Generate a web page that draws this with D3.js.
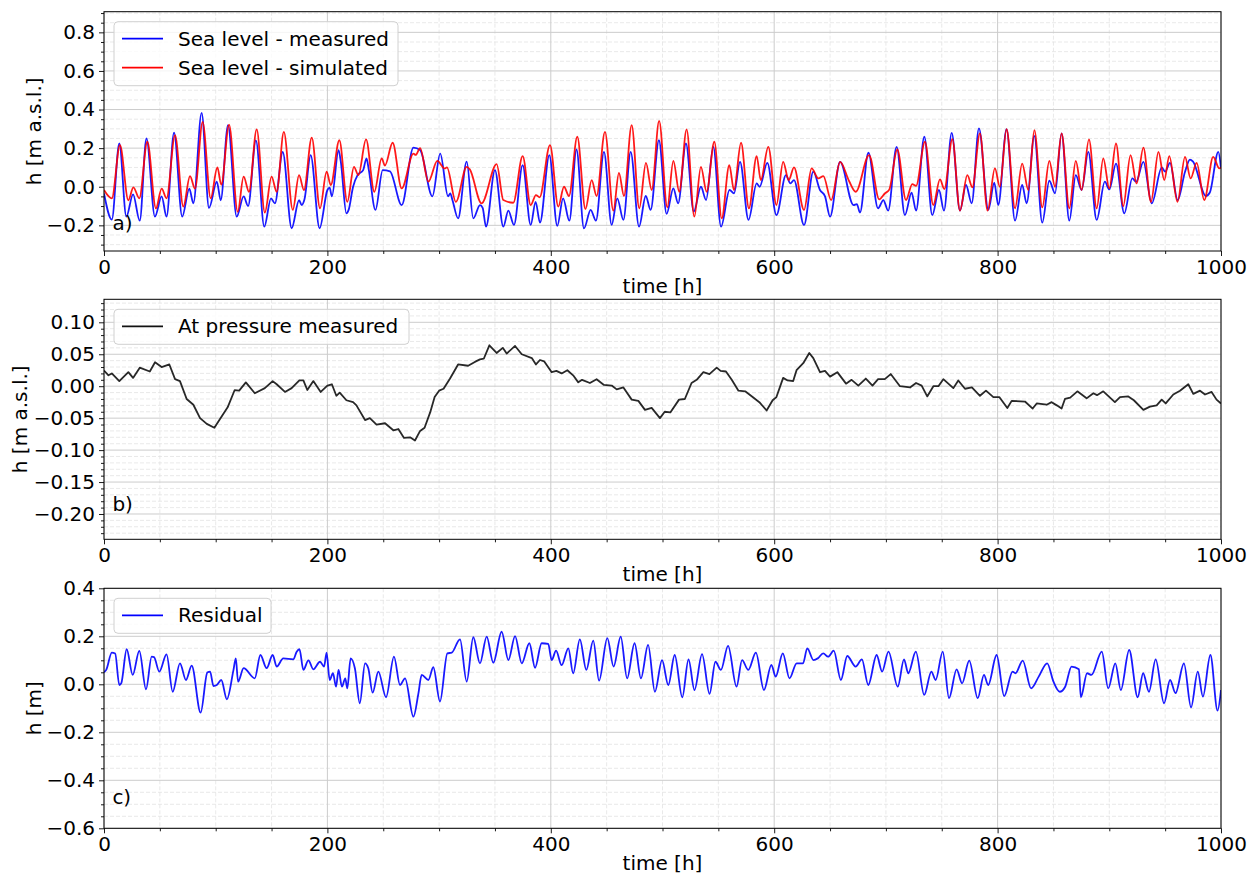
<!DOCTYPE html>
<html>
<head>
<meta charset="utf-8">
<script src="https://cdn.jsdelivr.net/npm/d3@7"></script>
<style>
  body { margin: 0; background: #fff; }
  svg { display: block; }
  text { font-family: "DejaVu Sans", sans-serif; fill: #000; }
</style>
</head>
<body>
<svg id="fig" width="1259" height="876"></svg>
<script>
// ---- tick labels ----
const timeTicks = [0, 200, 400, 600, 800, 1000];
const levelTicks = [-0.2, 0, 0.2, 0.4, 0.6, 0.8];
const pressureTicks = [-0.2, -0.15, -0.1, -0.05, 0, 0.05, 0.1];
const residualTicks = [-0.6, -0.4, -0.2, 0, 0.2, 0.4];

// ---- series: [time (h), level (m)] ----
const seaMeasured = [
  [0,-0.035],[7,-0.17],[13.7,0.224],[20,-0.155],[26,-0.04],[32,-0.176],[38,0.25],[45.6,-0.155],
  [51.6,-0.05],[56,-0.155],[62.7,0.28],[70,-0.155],[76.4,-0.01],[80,-0.086],[87.4,0.383],[94,-0.11],
  [101,0.026],[104.5,-0.07],[111,0.319],[118.8,-0.155],[125,-0.05],[129,-0.1],[136,0.24],[143.5,-0.207],
  [149.5,-0.06],[153,-0.086],[160,0.18],[168,-0.215],[174.6,-0.07],[177,-0.095],[179.5,-0.065],[185,0.164],
  [193,-0.215],[200,-0.017],[202,-0.005],[204,-0.05],[210,0.19],[212,0.13],[217,-0.138],[219,-0.12],
  [223,0],[227,0.06],[232,0.086],[235,0.147],[237,0.09],[243,-0.12],[249.5,0.086],[256,0.08],
  [266.5,-0.095],[277,0.203],[283,0.19],[294,-0.05],[301,0.172],[308,-0.05],[310,-0.035],[312,-0.07],
  [317,-0.164],[324.7,0.13],[330.6,-0.164],[336.6,-0.095],[339,-0.11],[342,-0.207],[350,0.086],[357.5,-0.207],
  [362,-0.124],[367,-0.198],[374.8,0.112],[382,-0.198],[386.4,-0.078],[390.3,-0.186],[398.7,0.164],[405.8,-0.203],
  [411,-0.06],[416.6,-0.176],[423,0.193],[429.7,-0.216],[435.7,-0.12],[440.4,-0.176],[447.6,0.181],[454.5,-0.198],
  [459.5,-0.06],[465,-0.172],[471.5,0.181],[479,-0.207],[485,-0.048],[489.4,-0.12],[496.8,0.241],[503.7,-0.141],
  [509.7,-0.009],[514,-0.086],[521,0.224],[528,-0.129],[534.4,0],[539,-0.069],[545.5,0.207],[552.4,-0.207],
  [560,-0.017],[564,-0.034],[569.4,0.129],[577,-0.172],[584.3,0.017],[587,0],[593.8,0.124],[602,-0.147],
  [610.5,0.06],[614.5,0.017],[617.7,0.034],[626.7,-0.198],[635,0.078],[641,-0.017],[645.5,-0.05],[650,-0.155],
  [659,0.129],[671,-0.095],[674,-0.09],[676.8,-0.134],[684.3,0.176],[693,-0.112],[697.7,-0.069],[702,-0.124],
  [709.6,0.207],[717,-0.147],[723,-0.031],[727,-0.124],[734.4,0.259],[741.5,-0.147],[747.5,-0.017],[752,-0.124],
  [758.9,0.279],[766.3,-0.124],[771.7,0.009],[776.8,-0.086],[783.3,0.302],[791.7,-0.12],[797,0.021],[800.6,-0.095],
  [808,0.298],[815.6,-0.176],[822,0.009],[826,-0.086],[832.9,0.264],[840,-0.186],[846.3,0.031],[851.4,-0.034],
  [857.3,0.276],[864.2,-0.176],[870,0.06],[875.2,-0.017],[881.2,0.181],[888.7,-0.172],[896,0.026],[900,-0.014],
  [906,0.12],[913.4,-0.138],[920.6,0.043],[924,0.026],[930.5,0.129],[938,-0.086],[947,0.1],[950,0.078],
  [954.3,0.124],[961.2,-0.069],[967.8,0.078],[972.2,0.141],[975,0.13],[986.5,-0.048],[990,-0.03],[997.6,0.181],
  [1000,0.095]
];

const seaSimulated = [
  [0,-0.017],[7,-0.06],[14.3,0.215],[21.8,-0.07],[26.3,-0.003],[31.6,-0.06],[38.8,0.233],[46.5,-0.112],
  [51.6,-0.01],[56,-0.06],[63.6,0.267],[71,-0.103],[77,0.055],[81.5,-0.01],[88.3,0.336],[95.5,-0.06],
  [101.5,0.1],[105,0.01],[112,0.322],[119.7,-0.13],[125,0.052],[129.8,-0.026],[136.7,0.297],[144,-0.134],
  [150,0.052],[154.6,-0.026],[161,0.284],[169,-0.12],[174.6,0.06],[179,-0.017],[186,0.255],[193.4,-0.112],
  [199.3,0.078],[203,0.009],[210.7,0.241],[217.8,-0.078],[223.8,0.103],[227.7,0.06],[234.6,0.245],[242,-0.026],
  [248.6,0.147],[251.5,0.11],[258.4,0.228],[266.5,-0.009],[277,0.172],[279,0.165],[283,0.2],[290.4,0.026],
  [298.4,0.134],[305,0.095],[307,0.1],[315,-0.078],[324.7,0.103],[327.5,0.09],[338,-0.086],[351.5,0.117],
  [357.5,-0.069],[366.4,-0.083],[374.8,0.159],[382,-0.095],[386.7,-0.043],[390,-0.055],[399.3,0.216],[406.7,-0.103],
  [411.8,0],[416.3,-0.048],[423.7,0.259],[431,-0.116],[436.6,0.034],[441,-0.048],[448.5,0.284],[456,-0.124],
  [461,0.072],[465.5,-0.048],[472.4,0.319],[479.2,-0.112],[485.2,0.124],[490.3,-0.017],[497,0.341],[504.3,-0.107],
  [509.7,0.134],[515,-0.026],[521.6,0.297],[528.5,-0.155],[534.4,0.103],[539.5,-0.026],[546.4,0.233],[553,-0.164],
  [559.8,0.112],[564,-0.017],[570.3,0.228],[577.4,-0.112],[584.3,0.159],[588,0.034],[594.7,0.207],[602,-0.095],
  [608,0.129],[613,0.034],[617.7,0.1],[626.7,-0.12],[633.5,0.095],[639.5,0.043],[644,0.055],[651,-0.069],
  [659,0.129],[667,0.03],[673,-0.026],[685,0.164],[694,-0.065],[699,-0.035],[703,-0.015],[710.2,0.193],
  [718,-0.069],[723.6,0.014],[727,0.005],[735,0.233],[742.4,-0.095],[748.4,0.038],[752.3,-0.012],[759.5,0.247],
  [766.3,-0.124],[772.9,0.06],[777.4,-0.003],[784.2,0.276],[791,-0.124],[797.6,0.095],[802,0],[808,0.298],
  [815.6,-0.112],[822,0.12],[827.5,-0.017],[832.9,0.293],[840,-0.107],[846.3,0.134],[851.4,0],[857.3,0.276],
  [864.2,-0.112],[870,0.134],[875.2,-0.017],[881.8,0.245],[888.7,-0.112],[894.6,0.147],[900,-0.009],[906,0.224],
  [912.5,-0.1],[919,0.164],[924.5,0.017],[930.5,0.203],[937.3,-0.078],[944,0.181],[949.2,0.034],[953.7,0.159],
  [961,-0.078],[967.8,0.155],[972.8,0.043],[978.2,0.124],[985,-0.069],[993,0.155],[998.5,0.095],[1000,0.1]
];

const atPressure = [
  [0,0.0245],[4,0.017],[7,0.02],[13.7,0.008],[21.8,0.022],[26,0.013],[32,0.029],[41,0.023],
  [45.7,0.0375],[51.6,0.03],[58.5,0.034],[63.6,0.011],[68,0.008],[74,-0.02],[80,-0.029],[86,-0.05],
  [92,-0.059],[98.8,-0.065],[104,-0.051],[110.7,-0.033],[117,-0.006],[121,-0.007],[127,0.006],[135,-0.011],
  [144,-0.003],[151,0.008],[154.6,0.003],[162,-0.009],[168,-0.003],[174.9,0.009],[178.5,0.009],[182,-0.006],
  [187.4,0.008],[194,-0.009],[200,0.001],[204,0.003],[208,-0.015],[211,-0.01],[217,-0.022],[223,-0.025],
  [226,-0.03],[233.7,-0.053],[238,-0.05],[244,-0.06],[251.6,-0.058],[259,-0.069],[263.5,-0.067],[268.6,-0.081],
  [274,-0.08],[278.4,-0.085],[283,-0.07],[287,-0.065],[292,-0.041],[296,-0.017],[300,-0.007],[304,-0.004],
  [309.8,0.012],[317,0.034],[326,0.032],[332,0.038],[336.6,0.042],[340,0.043],[345,0.064],[351.5,0.052],
  [357,0.06],[360.5,0.051],[368,0.063],[374,0.05],[383,0.044],[386.7,0.034],[390.3,0.041],[394,0.039],
  [400.8,0.022],[405,0.024],[409.7,0.02],[414.8,0.025],[420,0.017],[424.6,0.006],[428,0.01],[435,0.005],
  [441,0.011],[447.6,0.002],[454.5,0.001],[459,-0.005],[465,-0.002],[472.4,-0.021],[478.4,-0.023],[484.3,-0.037],
  [490.3,-0.034],[497.7,-0.05],[502,-0.04],[507,-0.041],[514.8,-0.021],[520,-0.02],[526,0.005],[530.6,0.01],
  [536.6,0.022],[542,0.019],[548.5,0.029],[552,0.024],[556.8,0.023],[562,0.01],[568,-0.007],[574,-0.008],
  [580.7,-0.017],[586.7,-0.025],[593.2,-0.038],[598.6,-0.022],[602,-0.017],[608,0.013],[612,0.009],[617,0.008],
  [620,0.025],[626,0.036],[631.4,0.052],[635,0.044],[641,0.022],[645.5,0.024],[650,0.015],[656.5,0.022],
  [664.3,0.004],[669.3,0.01],[675.3,0.001],[682,0.012],[688,0.001],[693,0.011],[699,0.011],[704.3,0.019],
  [712.6,0],[721.6,-0.002],[727,0.005],[732,0.001],[737,-0.016],[742.5,0],[747,0],[751.4,0.011],
  [760.4,-0.003],[764.8,0.009],[770.8,-0.004],[777,-0.002],[784.2,-0.015],[789.6,-0.007],[796.2,-0.017],[801.5,-0.017],
  [808.7,-0.034],[812.6,-0.023],[824.5,-0.024],[831.4,-0.035],[835,-0.027],[843.9,-0.029],[848.4,-0.025],[853,-0.03],
  [857.3,-0.035],[860.3,-0.02],[865,-0.018],[871.4,-0.008],[879.7,-0.019],[885.7,-0.011],[889,-0.014],[894.6,-0.008],
  [905,-0.025],[909.6,-0.017],[917,-0.016],[922,-0.022],[930.5,-0.037],[936.4,-0.032],[942.4,-0.03],[946.9,-0.021],
  [950.5,-0.027],[957.3,-0.013],[963.3,-0.007],[970.7,0.003],[975.2,-0.012],[981.2,-0.007],[985.7,-0.013],[991.6,-0.009],
  [996,-0.021],[1000,-0.027]
];

const residual = [
  [0,0.05],[2,0.06],[7,0.132],[10,0.128],[13.7,-0.003],[15.5,0.005],[20.3,0.146],[25.7,0.039],
  [31.6,0.139],[37.6,-0.021],[42.7,0.115],[44.8,0.113],[49.5,0.053],[56,0.125],[61.5,-0.031],[68,0.0875],
  [73.4,0.018],[78.5,0.078],[86.5,-0.118],[92.5,0.049],[95,0.053],[98,-0.007],[101,-0.003],[105,0.018],
  [110,-0.0625],[115.8,0.057],[118,0.108],[120,0.011],[125,0.067],[135,0.025],[140,0.122],[145.6,0.067],
  [151,0.122],[154.6,0.074],[160.5,0.108],[169.5,0.104],[172.5,0.136],[175,0.146],[178.5,0.06],[183,0.1],
  [187.4,0.0625],[193.4,0.094],[197,0.074],[199.3,0.132],[202,0.018],[205,0.046],[207.7,-0.01],[210,0.06],
  [213,-0.01],[216,0.025],[217.8,-0.017],[220.8,0.108],[224.6,0.067],[229,-0.079],[233.7,0.0875],[236.6,0.067],
  [240.5,-0.035],[245.6,0.053],[252.5,-0.054],[259.6,0.115],[265,-0.003],[269.5,0.025],[277,-0.135],[281.4,-0.04],
  [284.4,0.039],[290.4,0.018],[294.8,0.071],[300.8,-0.072],[307.4,0.129],[311.3,0.132],[318.7,0.1875],[324.7,0.011],
  [330.6,0.196],[336.6,0.0875],[342.6,0.199],[348.5,0.09],[356,0.219],[362,0.101],[368,0.201],[374,0.0875],
  [380.8,0.171],[385.9,0.069],[391.8,0.171],[397.7,0.168],[400.8,0.101],[404.7,0.14],[409.7,0.08],[415.7,0.15],
  [420,0.046],[426,0.1875],[431.8,0.06],[438,0.182],[443.2,0.015],[450.6,0.192],[456.2,0.074],[462.6,0.199],
  [468.3,0.025],[475,0.171],[480.7,0.025],[487.1,0.164],[493.2,-0.031],[499.6,0.101],[505.2,-0.003],[510.9,0.122],
  [517.7,-0.054],[523.3,0.104],[528.6,-0.024],[535.4,0.126],[542.1,-0.04],[547.4,0.094],[552.3,0.06],[558.7,0.16],
  [566.3,-0.01],[571.2,0.101],[576.8,0.06],[583.6,0.132],[590.8,-0.024],[597.5,0.081],[601.3,0.032],[607.7,0.129],
  [613.7,0.025],[620.1,0.0875],[625.8,0.0875],[629.6,0.15],[635.2,0.101],[639,0.108],[643.9,0.129],[648.3,0.115],
  [653.3,0.14],[659.7,0.018],[665.4,0.118],[672.9,0.074],[678.5,0.104],[684.2,-0.003],[691.7,0.122],[696.6,0.053],
  [702.3,0.136],[710.6,-0.01],[716.2,0.104],[720,0.046],[726.8,0.136],[734.3,-0.044],[740.7,0.053],[744.5,0.018],
  [750.9,0.136],[756.5,-0.058],[763.3,0.0625],[768.2,0.004],[774.6,0.099],[782.2,-0.058],[787.8,0.039],[791.6,-0.003],
  [799.1,0.122],[805.9,-0.049],[813.4,0.053],[816,0.046],[822.5,0.099],[830,-0.017],[836.8,0.032],[844.4,0.0875],
  [850,0.011],[855.6,-0.031],[860.5,-0.01],[866.2,0.074],[872.8,0.0625],[874.5,-0.054],[880.1,0.046],[884,0.039],
  [893.3,0.136],[899,-0.017],[905.4,0.0875],[910.3,-0.024],[917.8,0.143],[925.4,-0.054],[930.3,0.046],[935.5,-0.031],
  [941.5,0.104],[949,-0.079],[954.4,0.018],[959.3,-0.037],[966.8,0.0875],[973.2,-0.096],[979.2,0.053],[983.8,-0.051],
  [990.5,0.122],[996.9,-0.11],[1000,-0.024]
];

// ---- figure layout ----
const svg = d3.select("#fig");
const left = 104, right = 1221;
const FONT = 20;
const x = d3.scaleLinear().domain([0, 1000]).range([left, right]);
const minus = s => s.replace("-", "\u2212");

const panels = [
  { top: 11.7, bottom: 251, domain: [-0.333, 0.907], ticks: levelTicks, minor: 0.05, fmt: ".1f",
    ylabel: "h [m a.s.l.]", ylabelX: 41, tag: "a)", tagY: -0.223, curve: d3.curveMonotoneX, legendW: 284,
    series: [
      { data: seaMeasured, color: "#0000ff", name: "Sea level - measured" },
      { data: seaSimulated, color: "#ff0000", name: "Sea level - simulated" }
    ] },
  { top: 299.3, bottom: 539.3, domain: [-0.2396, 0.136], ticks: pressureTicks, minor: 0.01, fmt: ".2f",
    ylabel: "h [m a.s.l.]", ylabelX: 27, tag: "b)", tagY: -0.195, curve: d3.curveLinear, legendW: 295,
    series: [ { data: atPressure, color: "#111111", name: "At pressure measured" } ] },
  { top: 588.3, bottom: 828.3, domain: [-0.6, 0.4], ticks: residualTicks, minor: 0.05, fmt: ".1f",
    ylabel: "h [m]", ylabelX: 41, tag: "c)", tagY: -0.5, curve: d3.curveMonotoneX, legendW: 157,
    series: [ { data: residual, color: "#0000ff", name: "Residual" } ] }
];

panels.forEach((p, i) => {
  const y = d3.scaleLinear().domain(p.domain).range([p.bottom, p.top]);
  const g = svg.append("g");
  const eps = 1e-9;

  // minor grid
  const yMinor = d3.range(Math.ceil(p.domain[0] / p.minor) * p.minor, p.domain[1] + eps, p.minor)
    .map(v => +v.toFixed(4))
    .filter(v => !p.ticks.some(t => Math.abs(t - v) < 1e-6));
  const xMinor = d3.range(0, 1001, 50).filter(v => v % 200 !== 0);

  g.append("g").selectAll("line").data(yMinor).join("line")
    .attr("x1", left).attr("x2", right).attr("y1", d => y(d)).attr("y2", d => y(d))
    .attr("stroke", "#e3e3e3").attr("stroke-width", 0.8).attr("stroke-dasharray", "4,2");
  g.append("g").selectAll("line").data(xMinor).join("line")
    .attr("y1", p.top).attr("y2", p.bottom).attr("x1", d => x(d)).attr("x2", d => x(d))
    .attr("stroke", "#e3e3e3").attr("stroke-width", 0.8).attr("stroke-dasharray", "4,2");

  // major grid
  g.append("g").selectAll("line").data(p.ticks).join("line")
    .attr("x1", left).attr("x2", right).attr("y1", d => y(d)).attr("y2", d => y(d))
    .attr("stroke", "#cccccc").attr("stroke-width", 1);
  g.append("g").selectAll("line").data(timeTicks).join("line")
    .attr("y1", p.top).attr("y2", p.bottom).attr("x1", d => x(d)).attr("x2", d => x(d))
    .attr("stroke", "#cccccc").attr("stroke-width", 1);

  // lines
  const clipId = "clip" + i;
  svg.append("clipPath").attr("id", clipId).append("rect")
    .attr("x", left).attr("y", p.top).attr("width", right - left).attr("height", p.bottom - p.top);
  const line = d3.line().x(d => x(d[0])).y(d => y(d[1])).curve(p.curve);
  const lg = g.append("g").attr("clip-path", `url(#${clipId})`);
  p.series.forEach(s => {
    lg.append("path").datum(s.data).attr("d", line)
      .attr("fill", "none").attr("stroke", s.color).attr("stroke-width", 1.8)
      .attr("stroke-linejoin", "round").attr("stroke-opacity", 0.9);
  });

  // axes
  const yAxis = d3.axisLeft(y).tickValues(p.ticks).tickSize(5).tickPadding(4)
    .tickFormat(v => minus(d3.format(p.fmt)(v)));
  const yMinorAxis = d3.axisLeft(y).tickValues(yMinor).tickSize(3).tickFormat("");
  const xAxis = d3.axisBottom(x).tickValues(timeTicks).tickSize(5).tickPadding(4).tickFormat(d3.format("d"));
  const xMinorAxis = d3.axisBottom(x).tickValues(xMinor).tickSize(3).tickFormat("");

  const axes = [
    g.append("g").attr("transform", `translate(${left},0)`).call(yMinorAxis),
    g.append("g").attr("transform", `translate(${left},0)`).call(yAxis),
    g.append("g").attr("transform", `translate(0,${p.bottom})`).call(xMinorAxis),
    g.append("g").attr("transform", `translate(0,${p.bottom})`).call(xAxis)
  ];
  axes.forEach(a => {
    a.select(".domain").remove();
    a.selectAll(".tick line").attr("stroke", "#000").attr("stroke-width", 0.9);
    a.selectAll(".tick text").attr("font-size", FONT).attr("font-family", "DejaVu Sans").attr("fill", "#000");
  });

  // frame
  g.append("rect").attr("x", left).attr("y", p.top).attr("width", right - left).attr("height", p.bottom - p.top)
    .attr("fill", "none").attr("stroke", "#000").attr("stroke-width", 1);

  // axis titles
  g.append("text").attr("x", (left + right) / 2).attr("y", p.bottom + 42)
    .attr("text-anchor", "middle").attr("font-size", FONT).text("time [h]");
  g.append("text").attr("transform", `translate(${p.ylabelX},${(p.top + p.bottom) / 2}) rotate(-90)`)
    .attr("text-anchor", "middle").attr("font-size", FONT).text(p.ylabel);

  // panel tag
  g.append("text").attr("x", x(7.5)).attr("y", y(p.tagY)).attr("font-size", FONT).text(p.tag);

  // legend
  const n = p.series.length;
  const lx = left + 10, ly = p.top + 10, lh = 6 + 29 * n;
  const leg = g.append("g");
  leg.append("rect").attr("x", lx).attr("y", ly).attr("width", p.legendW).attr("height", lh)
    .attr("rx", 4).attr("fill", "#fff").attr("fill-opacity", 0.8)
    .attr("stroke", "#d0d0d0").attr("stroke-width", 1);
  p.series.forEach((s, k) => {
    const cy = ly + 17 + 29 * k;
    leg.append("line").attr("x1", lx + 8).attr("x2", lx + 49).attr("y1", cy).attr("y2", cy)
      .attr("stroke", s.color).attr("stroke-width", 1.8);
    leg.append("text").attr("x", lx + 64).attr("y", cy).attr("dy", "0.35em")
      .attr("font-size", FONT).text(s.name);
  });
});
</script>
</body>
</html>
